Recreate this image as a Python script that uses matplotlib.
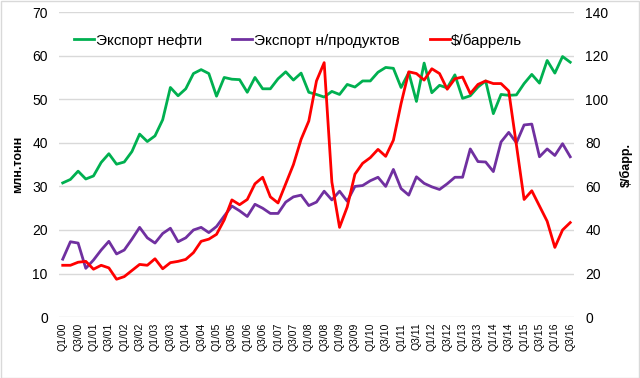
import matplotlib
matplotlib.use("Agg")
import matplotlib.pyplot as plt
from matplotlib.patches import Rectangle

plt.rcParams['font.family'] = ['Liberation Sans', 'DejaVu Sans']

# quarters Q1/00 .. Q3/16
quarters = [f"Q{q}/{y:02d}" for y in range(0, 17) for q in (1, 2, 3, 4)][:67]

# crude oil export, mln t (left axis)
oil_export = [
    30.8, 31.6, 33.5, 31.7, 32.4, 35.5, 37.5, 35.1, 35.6, 38.0,
    42.0, 40.3, 41.6, 45.3, 52.7, 50.8, 52.4, 55.9, 56.8, 55.9,
    50.7, 55.0, 54.6, 54.5, 51.6, 55.0, 52.4, 52.4, 54.7, 56.3,
    54.4, 56.0, 51.6, 51.1, 50.5, 51.8, 51.1, 53.4, 52.8, 54.2,
    54.2, 56.2, 57.3, 57.1, 52.7, 56.1, 49.5, 58.3, 51.5, 53.2,
    52.6, 55.6, 50.2, 50.8, 52.8, 54.2, 46.7, 51.1, 50.9, 51.0,
    53.6, 55.7, 53.7, 58.9, 56.0, 59.8, 58.5,
]

# oil products export, mln t (left axis)
products_export = [
    13.3, 17.3, 17.0, 11.2, 13.1, 15.4, 17.4, 14.5, 15.4, 17.9,
    20.6, 18.2, 17.0, 19.2, 20.4, 17.3, 18.2, 20.0, 20.6, 19.4,
    20.8, 23.2, 25.5, 24.4, 23.1, 25.9, 25.0, 23.8, 23.8, 26.4,
    27.6, 28.0, 25.6, 26.4, 28.9, 26.9, 28.9, 26.6, 30.0, 30.2,
    31.3, 32.1, 30.0, 33.9, 29.5, 28.0, 32.2, 30.7, 29.9, 29.3,
    30.6, 32.1, 32.1, 38.6, 35.7, 35.6, 33.4, 40.2, 42.4, 40.0,
    44.1, 44.3, 36.8, 38.6, 37.1, 39.8, 36.8,
]

# price, $/bbl (right axis)
price = [
    23.8, 23.8, 25.2, 25.6, 22.0, 23.8, 22.6, 17.4, 18.6, 21.4,
    24.2, 23.8, 26.8, 22.2, 25.0, 25.6, 26.5, 29.6, 34.8, 35.8,
    38.0, 44.6, 53.8, 51.6, 54.0, 61.2, 64.2, 55.2, 52.4, 61.2,
    70.0, 81.6, 90.0, 108.4, 116.8, 62.0, 41.2, 50.6, 65.6, 70.6,
    73.2, 77.0, 73.8, 81.2, 98.0, 112.6, 111.8, 108.8, 114.0, 111.8,
    104.6, 109.4, 110.2, 102.6, 106.8, 108.4, 107.2, 107.2, 103.8, 79.0,
    54.0, 58.0, 51.0, 44.0, 32.0, 40.0, 43.4,
]

GREEN = "#00b050"
PURPLE = "#7030a0"
RED = "#ff0000"

fig = plt.figure(figsize=(6.4, 3.78), dpi=100)
ax = fig.add_axes([0.092, 0.161, 0.805, 0.807])
ax2 = ax.twinx()

x = list(range(len(quarters)))
l1, = ax.plot(x, oil_export, color=GREEN, lw=2.0, label="Экспорт нефти")
l2, = ax.plot(x, products_export, color=PURPLE, lw=2.0, label="Экспорт н/продуктов")
l3, = ax2.plot(x, price, color=RED, lw=2.0, label="$/баррель")

ax.set_xlim(-0.5, len(quarters) - 0.5)
ax.set_ylim(0, 70)
ax2.set_ylim(0, 140)
ax.set_yticks(range(0, 71, 10))
ax2.set_yticks(range(0, 141, 20))
ax.set_xticks(x[::2])
ax.set_xticklabels(quarters[::2], rotation=90, fontsize=7.5)
ax.tick_params(axis='x', length=0, pad=4)
ax.tick_params(axis='y', length=0, labelsize=10, pad=8)
ax2.tick_params(axis='y', length=0, labelsize=10, pad=8)

ax.grid(axis='y', color="#d9d9d9", lw=1)
ax.set_axisbelow(True)
for a in (ax, ax2):
    for s in a.spines.values():
        s.set_visible(False)

ax.set_ylabel("млн.тонн", fontsize=9, fontweight='bold', labelpad=6)
ax2.set_ylabel("$/барр.", fontsize=9, fontweight='bold', rotation=90, labelpad=8)

fig.legend(handles=[l1, l2, l3], loc='center', bbox_to_anchor=(0.466, 0.893),
           ncol=3, frameon=False, fontsize=11, handlelength=1.3,
           handletextpad=0.1, columnspacing=2.0)

fig.patches.append(Rectangle((0.001, 0.001), 0.997, 0.997, transform=fig.transFigure,
                             fill=False, ec="#d9d9d9", lw=1))

fig.savefig("out.png", dpi=100)
